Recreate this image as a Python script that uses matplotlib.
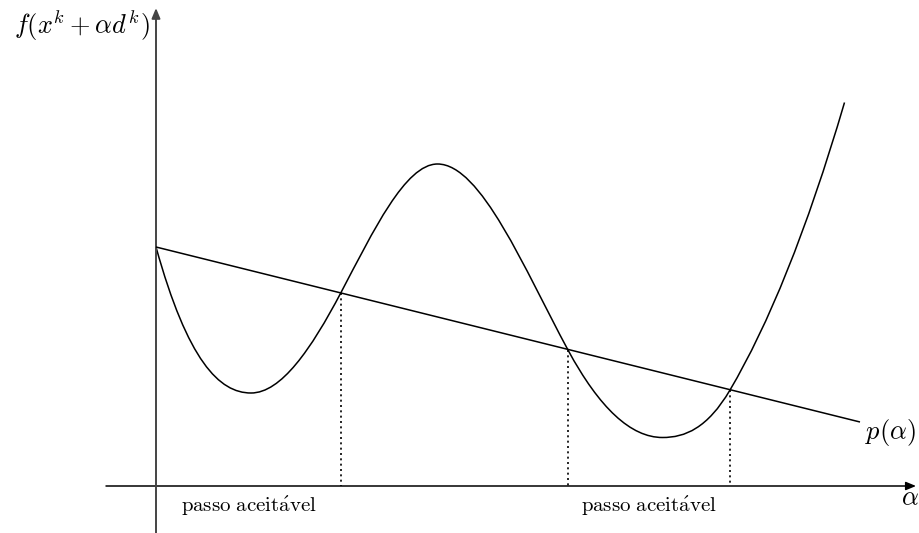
import matplotlib
matplotlib.use("Agg")
import matplotlib.pyplot as plt
from matplotlib.path import Path
from matplotlib.patches import PathPatch, FancyArrowPatch

plt.rcParams['mathtext.fontset'] = 'cm'

# knots of f(x^k + alpha d^k): start, minimum, crossing, maximum, crossing, minimum, crossing, end
alpha_knots = [0.0, 0.95, 1.85, 2.815, 4.12, 5.065, 5.74, 6.885]
f_knots = [2.39, 0.93, 1.935, 3.22, 1.36, 0.485, 0.96, 3.835]
# slope of the curve at each knot
f_slopes = [-3.6, 0.0, 1.9, 0.0, -1.85, 0.0, 1.7, 3.4]

# straight line p(alpha)
p_alpha = [0.0, 7.04]
p_vals = [2.39, 0.64]

# points where f meets p (acceptable step boundaries)
cross_alpha = [1.85, 4.12, 5.74]
cross_f = [1.935, 1.36, 0.96]

step_label = r"$\mathrm{passo\ aceit\'{a}vel}$"

fig = plt.figure(figsize=(9.2, 5.33), dpi=100)
ax = fig.add_axes([0, 0, 1, 1])
ax.set_xlim(-1.56, 7.64)
ax.set_ylim(-0.47, 4.86)
ax.axis("off")

# build the curve as cubic Bezier segments (Hermite form)
verts = [(alpha_knots[0], f_knots[0])]
codes = [Path.MOVETO]
for i in range(len(alpha_knots) - 1):
    x0, y0, m0 = alpha_knots[i], f_knots[i], f_slopes[i]
    x1, y1, m1 = alpha_knots[i + 1], f_knots[i + 1], f_slopes[i + 1]
    h = (x1 - x0) / 3
    verts += [(x0 + h, y0 + m0 * h), (x1 - h, y1 - m1 * h), (x1, y1)]
    codes += [Path.CURVE4] * 3
ax.add_patch(PathPatch(Path(verts, codes), fill=False, lw=1.1, color="black",
                       capstyle="butt"))

ax.plot(p_alpha, p_vals, color="black", lw=1.1, solid_capstyle="butt")

for a, f in zip(cross_alpha, cross_f):
    ax.plot([a, a], [f, 0], color="black", lw=1.2, linestyle=(0, (1.2, 2.0)))

# axes with arrow heads
ax.add_patch(FancyArrowPatch((-0.50, 0), (7.60, 0), arrowstyle="-|>,head_length=6,head_width=2.5",
                             mutation_scale=1, lw=1.1, color="black", shrinkA=0, shrinkB=0))
ax.add_patch(FancyArrowPatch((0, -0.47), (0, 4.78), arrowstyle="-|>,head_length=6,head_width=2.5",
                             mutation_scale=1, lw=1.4, color="#444444", shrinkA=0, shrinkB=0))

ax.text(-0.74, 4.61, r"$f(x^k + \alpha d^k)$", fontsize=19, ha="center", va="center")
ax.text(7.09, 0.54, r"$p(\alpha)$", fontsize=19, ha="left", va="center")
ax.text(7.54, -0.12, r"$\alpha$", fontsize=19, ha="center", va="center")

ax.text((0 + cross_alpha[0]) / 2, -0.20, step_label, fontsize=15, ha="center", va="center")
ax.text((cross_alpha[1] + cross_alpha[2]) / 2, -0.20, step_label, fontsize=15,
        ha="center", va="center")

fig.savefig("out.png", dpi=100)
